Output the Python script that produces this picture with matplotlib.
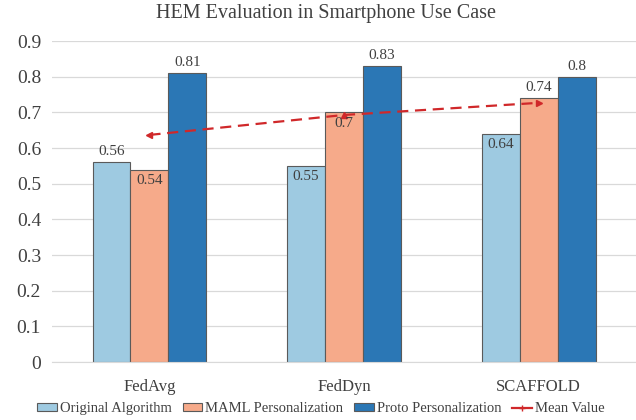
import matplotlib
matplotlib.use('Agg')
import matplotlib.pyplot as plt
from matplotlib.patches import Patch
from matplotlib.lines import Line2D
import numpy as np

# Data
categories = ['FedAvg', 'FedDyn', 'SCAFFOLD']
series_names = ['Original Algorithm', 'MAML Personalization', 'Proto Personalization']
original = [0.56, 0.55, 0.64]
maml = [0.54, 0.70, 0.74]
proto = [0.81, 0.83, 0.80]
mean_value = [0.637, 0.693, 0.727]
label_text = [['0.56', '0.55', '0.64'], ['0.54', '0.7', '0.74'], ['0.81', '0.83', '0.8']]
label_inside = [[False, True, True], [True, True, False], [False, False, False]]

# Style
colors = ['#9ecae1', '#f6aa8a', '#2b77b5']
edge = '#5a5a5a'
text_col = '#404040'
red = '#d0282a'
plt.rcParams['font.family'] = ['Liberation Serif', 'DejaVu Serif']

fig, ax = plt.subplots(figsize=(6.36, 4.2), dpi=100)
fig.subplots_adjust(left=0.082, right=1.0, top=0.902, bottom=0.138)

x = np.arange(len(categories))
w = 0.195
for i, vals in enumerate([original, maml, proto]):
    bars = ax.bar(x + (i - 1) * w, vals, w, color=colors[i], edgecolor=edge,
                  linewidth=0.8, zorder=2)
    for j, b in enumerate(bars):
        h = b.get_height()
        if label_inside[i][j]:
            ax.text(b.get_x() + w / 2, h - 0.012, label_text[i][j], ha='center',
                    va='top', fontsize=11, color=text_col, zorder=4)
        else:
            ax.text(b.get_x() + w / 2, h + 0.012, label_text[i][j], ha='center',
                    va='bottom', fontsize=11, color=text_col, zorder=4)

# Mean line with arrow ends
ax.plot(x, mean_value, color=red, linestyle=(0, (5, 3)), linewidth=1.6, zorder=3)
ax.plot(x[0], mean_value[0], marker='<', color=red, markersize=5, zorder=3)
ax.plot(x[1], mean_value[1], marker='^', color=red, markersize=5, zorder=3)
ax.plot(x[2], mean_value[2], marker='>', color=red, markersize=5, zorder=3)

ax.set_xlim(-0.5, 2.5)
ax.set_ylim(0, 0.9)
ax.set_yticks(np.arange(0, 0.91, 0.1))
ax.set_yticklabels(['0'] + ['%.1f' % v for v in np.arange(0.1, 0.91, 0.1)])
ax.set_xticks(x)
ax.set_xticklabels(categories)
ax.tick_params(axis='y', length=0, labelsize=14, colors=text_col, pad=8)
ax.tick_params(axis='x', length=0, labelsize=12, colors=text_col, pad=12)
ax.grid(axis='y', color='#d9d9d9', linewidth=0.9, zorder=0)
ax.set_axisbelow(True)
for s in ['top', 'right', 'left']:
    ax.spines[s].set_visible(False)
ax.spines['bottom'].set_color('#d9d9d9')

fig.text(0.513, 0.969, 'HEM Evaluation in Smartphone Use Case', fontsize=14.5,
         color=text_col, ha='center', va='center')

handles = [Patch(facecolor=c, edgecolor=edge, linewidth=0.8) for c in colors]
handles.append(Line2D([0], [0], color=red, linewidth=1.6, marker='+', markersize=5))
ax.legend(handles, series_names + ['Mean Value'], loc='upper center',
          bbox_to_anchor=(0.46, -0.085), ncol=4, frameon=False, fontsize=10.5,
          handlelength=1.35, handleheight=0.5, handletextpad=0.2, columnspacing=0.75,
          labelcolor=text_col)

fig.savefig('out.png', dpi=100)
